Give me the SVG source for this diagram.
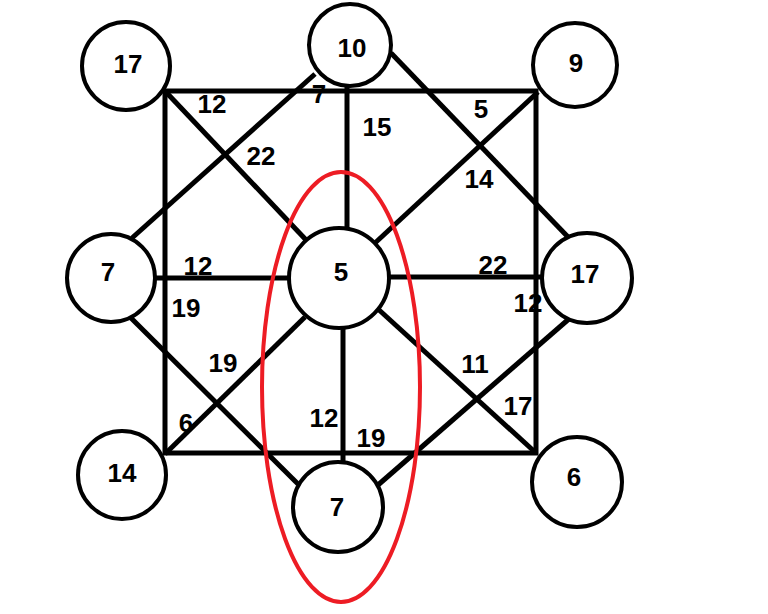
<svg xmlns="http://www.w3.org/2000/svg" width="768" height="614" viewBox="0 0 768 614">
<style>
.n{fill:#fff;stroke:#000;stroke-width:4}
.t{font-family:"Liberation Sans",Arial,sans-serif;font-weight:bold;font-size:26px;fill:#000;text-anchor:middle}
.e{stroke:#000;stroke-width:5;fill:none;stroke-linecap:butt}
</style>
<rect width="768" height="614" fill="#fff"/>
<g id="connectors" class="e">
<path d="M165,91 H536 V453 H165 Z" stroke-linejoin="miter"/>
<line x1="347" y1="86" x2="347" y2="229"/>
<line x1="343" y1="328" x2="343" y2="461"/>
<line x1="155" y1="278" x2="288" y2="278"/>
<line x1="390" y1="277" x2="548" y2="277"/>
<line x1="165" y1="91" x2="308" y2="242"/>
<line x1="315" y1="74" x2="132" y2="238"/>
<line x1="391" y1="53" x2="568" y2="237"/>
<line x1="538" y1="92" x2="375" y2="243"/>
<line x1="130" y1="317" x2="298" y2="484"/>
<line x1="305" y1="317" x2="165" y2="454"/>
<line x1="378" y1="309" x2="536" y2="453"/>
<line x1="570" y1="318" x2="378" y2="485"/>
</g>
<g id="n17a"><circle class="n" cx="126" cy="66" r="44"/><text class="t" x="128" y="73">17</text></g>
<g id="n10"><circle class="n" cx="350" cy="45" r="41"/><text class="t" x="352" y="57">10</text></g>
<g id="n9"><circle class="n" cx="575" cy="65" r="42"/><text class="t" x="576" y="72">9</text></g>
<g id="n7a"><circle class="n" cx="111" cy="278" r="44"/><text class="t" x="108" y="281">7</text></g>
<g id="n5"><circle class="n" cx="339" cy="278" r="50"/><text class="t" x="341" y="281">5</text></g>
<g id="n17b"><circle class="n" cx="587" cy="278" r="45"/><text class="t" x="585" y="283">17</text></g>
<g id="n14"><circle class="n" cx="122" cy="475" r="44"/><text class="t" x="122" y="482">14</text></g>
<g id="n7b"><circle class="n" cx="338" cy="507" r="45"/><text class="t" x="337" y="516">7</text></g>
<g id="n6"><circle class="n" cx="577" cy="482" r="45"/><text class="t" x="574" y="486">6</text></g>
<g id="labels">
<text class="t" x="212" y="113">12</text>
<text class="t" x="319" y="103">7</text>
<text class="t" x="377" y="136">15</text>
<text class="t" x="261" y="165">22</text>
<text class="t" x="481" y="118">5</text>
<text class="t" x="479" y="188">14</text>
<text class="t" x="198" y="275">12</text>
<text class="t" x="186" y="317">19</text>
<text class="t" x="223" y="372">19</text>
<text class="t" x="493" y="274">22</text>
<text class="t" x="528" y="312">12</text>
<text class="t" x="475" y="373">11</text>
<text class="t" x="518" y="415">17</text>
<text class="t" x="186" y="432">6</text>
<text class="t" x="324" y="427">12</text>
<text class="t" x="371" y="447">19</text>
</g>
<ellipse id="highlight" cx="341" cy="387" rx="79" ry="215" fill="none" stroke="#ED1C24" stroke-width="4"/>
</svg>
